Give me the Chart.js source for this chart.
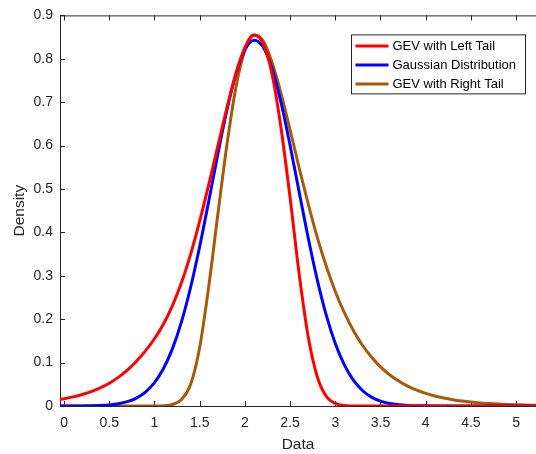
<!DOCTYPE html>
<html>
<head>
<meta charset="utf-8">
<script src="https://cdn.jsdelivr.net/npm/chart.js@4.4.1/dist/chart.umd.min.js"></script>
<style>
  html, body { margin: 0; padding: 0; background: #ffffff; }
</style>
</head>
<body>
<canvas id="line-chart" width="536" height="454"></canvas>
<script>
// x positions of the samples
const xValues = [-0.045, 0, 0.1, 0.2, 0.3, 0.4, 0.5, 0.6, 0.7, 0.8, 0.9,
  1, 1.1, 1.2, 1.3, 1.4, 1.5, 1.6, 1.7, 1.8, 1.9,
  2, 2.1, 2.2, 2.3, 2.4, 2.5, 2.6, 2.7, 2.8, 2.9,
  3, 3.1, 3.2, 3.3, 3.4, 3.5, 3.6, 3.7, 3.8, 3.9,
  4, 4.1, 4.2, 4.3, 4.4, 4.5, 4.6, 4.7, 4.8, 4.9,
  5, 5.1, 5.2, 5.22];

// densities
const leftTail = [0.0155, 0.0167, 0.021, 0.0264, 0.0333, 0.0418, 0.0525, 0.0659, 0.0825, 0.1031, 0.127,
  0.155, 0.189, 0.232, 0.285, 0.35, 0.426, 0.51, 0.598, 0.686, 0.766,
  0.826, 0.855, 0.836, 0.765, 0.64, 0.48, 0.305, 0.16, 0.068, 0.022,
  0.006, 0.001, 0.0002, 0, 0, 0, 0, 0, 0, 0,
  0, 0, 0, 0, 0, 0, 0, 0, 0, 0,
  0, 0, 0, 0];

const gaussian = [0, 0, 0.0001, 0.0002, 0.0006, 0.0012, 0.0026, 0.0052, 0.01, 0.0183, 0.0321,
  0.0539, 0.0865, 0.1328, 0.1949, 0.2736, 0.3674, 0.4717, 0.5792, 0.6802, 0.764,
  0.8206, 0.8428, 0.8279, 0.7778, 0.6987, 0.6003, 0.4933, 0.3876, 0.2913, 0.2093,
  0.1439, 0.0946, 0.0594, 0.0357, 0.0205, 0.0113, 0.0059, 0.003, 0.0014, 0.0007,
  0.0003, 0.0001, 0, 0, 0, 0, 0, 0, 0, 0,
  0, 0, 0, 0];

const rightTail = [0, 0, 0, 0, 0, 0, 0, 0, 0, 0, 0,
  0, 0.0005, 0.0035, 0.015, 0.05, 0.135, 0.275, 0.44, 0.6, 0.733,
  0.82, 0.855, 0.842, 0.792, 0.72, 0.636, 0.549, 0.466, 0.389, 0.322,
  0.264, 0.215, 0.174, 0.14, 0.113, 0.09, 0.072, 0.0575, 0.0458, 0.0365,
  0.029, 0.023, 0.0183, 0.0145, 0.0115, 0.0091, 0.0072, 0.0058, 0.0046, 0.0036,
  0.0029, 0.0023, 0.0018, 0.0017];

const xTicks = [0, 0.5, 1, 1.5, 2, 2.5, 3, 3.5, 4, 4.5, 5];
const yTicks = [0, 0.1, 0.2, 0.3, 0.4, 0.5, 0.6, 0.7, 0.8, 0.9];

const seriesNames = ["GEV with Left Tail", "Gaussian Distribution", "GEV with Right Tail"];
const seriesColors = ["#FF0000", "#0000FF", "#A65A0A"];

const axisColor = "#262626";
const fontFamily = "'Liberation Sans', Arial, sans-serif";

const toPoints = (ys) => xValues.map((x, i) => ({ x: x, y: ys[i] }));

//top border and inward ticks, under the curves
const boxTicks = {
  id: "boxTicks",
  beforeDatasetsDraw(chart) {
    const { ctx, chartArea, scales } = chart;
    ctx.save();
    ctx.strokeStyle = axisColor;
    ctx.lineWidth = 1;
    ctx.beginPath();
    ctx.moveTo(chartArea.left, chartArea.top + 0.5);
    ctx.lineTo(chartArea.right, chartArea.top + 0.5);
    xTicks.forEach((v) => {
      const px = Math.round(scales.x.getPixelForValue(v)) + 0.5;
      ctx.moveTo(px, chartArea.bottom);
      ctx.lineTo(px, chartArea.bottom - 5);
      ctx.moveTo(px, chartArea.top);
      ctx.lineTo(px, chartArea.top + 5);
    });
    yTicks.forEach((v) => {
      const py = Math.round(scales.y.getPixelForValue(v)) + 0.5;
      ctx.moveTo(chartArea.left, py);
      ctx.lineTo(chartArea.left + 5, py);
    });
    ctx.stroke();
    ctx.restore();
  },
};

//legend box in the upper right corner
const boxLegend = {
  id: "boxLegend",
  afterDatasetsDraw(chart) {
    const { ctx, chartArea } = chart;
    const left = chartArea.right - 184.5;
    const top = chartArea.top + 19.5;
    ctx.save();
    ctx.fillStyle = "#ffffff";
    ctx.fillRect(left, top, 174, 59);
    ctx.strokeStyle = axisColor;
    ctx.lineWidth = 1;
    ctx.strokeRect(left, top, 174, 59);
    ctx.font = "13px " + fontFamily;
    ctx.textBaseline = "middle";
    seriesNames.forEach((name, i) => {
      const y = top + 11 + i * 19;
      ctx.strokeStyle = seriesColors[i];
      ctx.lineWidth = 3;
      ctx.beginPath();
      ctx.moveTo(left + 4, y);
      ctx.lineTo(left + 37, y);
      ctx.stroke();
      ctx.fillStyle = "#000000";
      ctx.fillText(name, left + 41, y + 0.5);
    });
    ctx.restore();
  },
};

new Chart(document.getElementById("line-chart"), {
  type: "line",
  data: {
    datasets: [leftTail, gaussian, rightTail].map((ys, i) => ({
      label: seriesNames[i],
      data: toPoints(ys),
      borderColor: seriesColors[i],
      borderWidth: 3,
      pointRadius: 0,
      fill: false,
      cubicInterpolationMode: "monotone",
    })),
  },
  options: {
    responsive: false,
    animation: false,
    layout: { padding: { top: 15, right: 0, left: 0, bottom: 0 } },
    plugins: {
      legend: { display: false },
      tooltip: { enabled: false },
    },
    scales: {
      x: {
        type: "linear",
        min: -0.045,
        max: 5.22,
        grid: { display: false, drawTicks: false },
        border: { display: true, color: axisColor, width: 1 },
        ticks: {
          color: axisColor,
          font: { size: 14, family: fontFamily },
          padding: 9,
          maxRotation: 0,
          autoSkip: false,
          callback: (v) => String(v),
        },
        title: {
          display: true,
          text: "Data",
          color: axisColor,
          font: { size: 15.5, family: fontFamily },
          padding: { top: 0, bottom: 0 },
        },
        afterBuildTicks: (scale) => {
          scale.ticks = xTicks.map((v) => ({ value: v }));
        },
        afterFit: (scale) => {
          scale.height = 48;
        },
      },
      y: {
        min: 0,
        max: 0.9,
        grid: { display: false, drawTicks: false },
        border: { display: true, color: axisColor, width: 1 },
        ticks: {
          color: axisColor,
          font: { size: 14, family: fontFamily },
          padding: 7,
          callback: (v) => String(v),
        },
        title: {
          display: true,
          text: "Density",
          color: axisColor,
          font: { size: 15.5, family: fontFamily },
          padding: { top: 10, bottom: 0 },
        },
        afterBuildTicks: (scale) => {
          scale.ticks = yTicks.map((v) => ({ value: v }));
        },
        afterFit: (scale) => {
          scale.width = 60;
        },
      },
    },
  },
  plugins: [boxTicks, boxLegend],
});
</script>
</body>
</html>
